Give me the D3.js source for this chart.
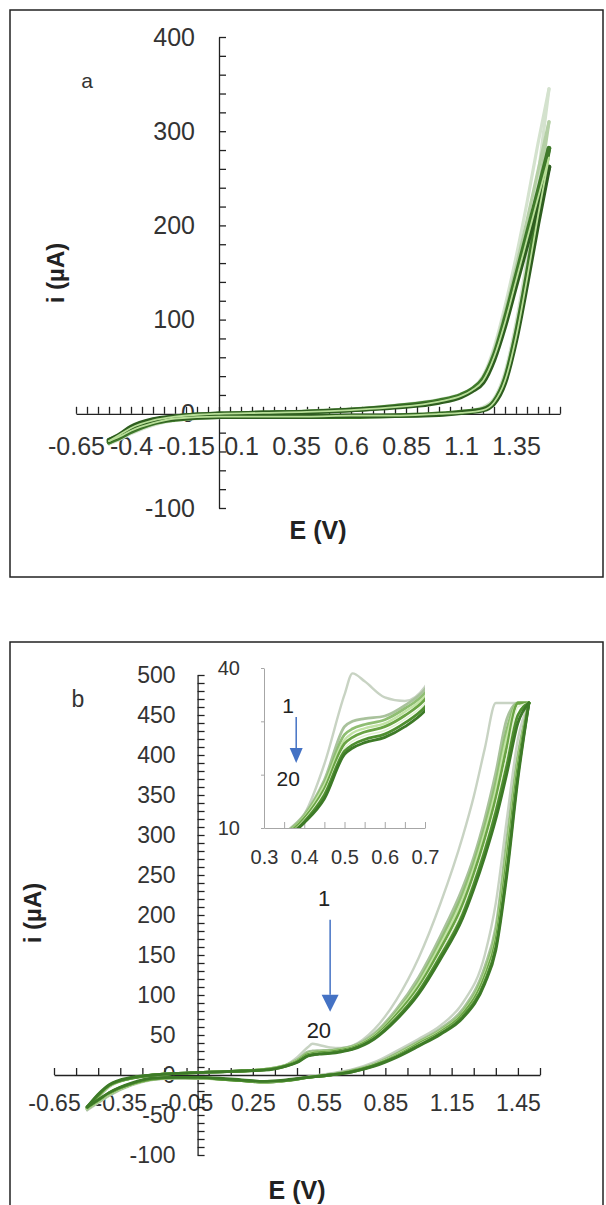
<!DOCTYPE html>
<html>
<head>
<meta charset="utf-8">
<script src="https://cdnjs.cloudflare.com/ajax/libs/d3/7.8.5/d3.min.js"></script>
<style>
  body { margin: 0; background: #fff; }
  svg { display: block; font-family: "Liberation Sans", Arial, sans-serif; }
</style>
</head>
<body>
<svg id="chart" width="606" height="1205"></svg>
<script>
// ---- panel a : potential grids (V) and currents (µA) per cycle ----
const eFwdA = [-0.5, -0.45, -0.4, -0.3, -0.2, -0.1, 0, 0.2, 0.4, 0.6, 0.8, 1.0, 1.1, 1.15, 1.2, 1.25, 1.3, 1.35, 1.4, 1.45, 1.5];
const eRevA = [-0.5, -0.45, -0.4, -0.3, -0.2, 0, 0.2, 0.4, 0.6, 0.8, 1.0, 1.1, 1.2, 1.25, 1.3, 1.35, 1.4, 1.45, 1.5];

const a1Fwd = [-32, -24, -16, -7, -3, -1, 0, 1, 3, 5, 9, 15, 21, 27, 40, 70, 114, 166, 224, 287, 345];
const a1Rev = [-32, -27, -21, -12, -7, -4, -3, -3, -3, -2, 0, 2, 7, 16, 44, 96, 165, 252, 345];
const a2Fwd = [-31, -24, -16, -7, -3, -1, 0, 1, 3, 5, 8, 14, 20, 26, 38, 66, 107, 155, 205, 258, 310];
const a2Rev = [-31, -26, -20, -11, -6, -3, -3, -3, -2, -2, 0, 2, 6, 14, 40, 89, 154, 232, 310];
const a3Fwd = [-30, -23, -15, -7, -3, -1, 0, 1, 2, 4, 8, 14, 20, 26, 37, 62, 101, 146, 191, 236, 282];
const a3Rev = [-30, -25, -19, -10, -6, -3, -3, -3, -3, -2, 0, 2, 5, 13, 37, 85, 148, 217, 282];
const a4Fwd = [-29, -22, -15, -7, -3, -1, 0, 1, 2, 4, 7, 13, 19, 25, 35, 60, 97, 141, 185, 229, 272];
const a4Rev = [-29, -24, -18, -10, -5, -3, -3, -3, -2, -2, 0, 1, 4, 12, 35, 81, 143, 210, 272];
const a5Fwd = [-28, -22, -14, -6, -3, -1, 0, 1, 2, 4, 7, 12, 18, 24, 33, 57, 93, 136, 179, 221, 262];
const a5Rev = [-28, -23, -17, -9, -5, -3, -3, -3, -2, -2, -1, 1, 4, 11, 33, 78, 138, 202, 262];

const xLabelsA = [-0.65, -0.4, -0.15, 0.1, 0.35, 0.6, 0.85, 1.1, 1.35];
const yLabelsA = [-100, 0, 100, 200, 300, 400];

// ---- panel b : 20 cycles, the distinguishable ones ----
const eFwdB = [-0.5, -0.45, -0.4, -0.3, -0.2, -0.1, 0, 0.1, 0.2, 0.3, 0.35, 0.4, 0.45, 0.5, 0.52, 0.55, 0.6, 0.65, 0.7, 0.8, 0.9, 1.0, 1.1, 1.2, 1.25, 1.3, 1.35, 1.4, 1.45, 1.5];
const eRevB = [-0.5, -0.45, -0.4, -0.3, -0.2, -0.1, 0, 0.1, 0.2, 0.3, 0.4, 0.5, 0.6, 0.7, 0.8, 0.9, 1.0, 1.1, 1.2, 1.3, 1.35, 1.4, 1.45, 1.5];

const b1Fwd = [-44, -28, -15, -4, 0, 2, 3, 4, 5, 7, 9, 12.5, 22, 35, 39, 37.5, 34.5, 33.8, 36.5, 57, 94, 146, 215, 298, 348, 408, 465, 465, 465, 465];
const b2Fwd = [-43, -27, -14, -4, 0, 2, 3, 4, 5, 7, 9, 12.5, 19, 29, 30, 30.5, 31, 33, 36, 52, 82, 122, 174, 234, 272, 320, 378, 445, 465, 465];
const b3Fwd = [-42, -27, -14, -4, 0, 2, 3, 4, 5, 7, 8.8, 12.2, 18.5, 27.5, 28.6, 29.4, 30.3, 32.4, 35.3, 50, 79, 117, 168, 227, 265, 311, 366, 432, 465, 465];
const b4Fwd = [-42, -26, -14, -4, 0, 2, 3, 4, 5, 7, 8.6, 12, 18, 26.5, 27.8, 28.7, 29.6, 31.8, 34.7, 49, 77, 114, 163, 220, 258, 303, 356, 422, 465, 465];
const b5Fwd = [-41, -26, -13, -4, 0, 2, 3, 4, 5, 6.5, 8.4, 11.8, 17.3, 25.8, 27, 28, 29, 31.1, 34.1, 48, 75, 110, 158, 213, 251, 295, 346, 410, 465, 465];
const b6Fwd = [-41, -25, -13, -4, 0, 2, 3, 4, 5, 6.5, 8.2, 11.5, 16.8, 25, 26.3, 27.3, 28.3, 30.4, 33.4, 47, 73, 107, 153, 207, 244, 287, 337, 398, 460, 465];
const b7Fwd = [-40, -25, -13, -4, 0, 2, 3, 4, 5, 6.5, 8, 11.2, 16.2, 24.4, 25.6, 26.6, 27.6, 29.7, 32.7, 46, 71, 104, 149, 201, 238, 280, 329, 387, 450, 465];
const b8Fwd = [-40, -24, -12, -3, 0, 2, 3, 4, 5, 6, 7.8, 11, 15.5, 23.8, 25, 26, 27, 29, 32, 45, 69, 101, 145, 196, 232, 273, 320, 377, 440, 465];

const b1Rev = [-44, -35, -26, -13, -6, -4, -4, -5, -7, -9, -7, -2, 2, 7, 16, 30, 45, 62, 90, 150, 215, 320, 420, 465];
const b2Rev = [-43, -34, -25, -12, -5, -4, -4, -5, -7, -9, -7, -3, 1, 6, 14, 27, 42, 58, 82, 135, 185, 295, 400, 465];
const b3Rev = [-42, -33, -24, -12, -5, -4, -4, -5, -7, -9, -7, -3, 0, 5, 13, 26, 41, 56, 79, 130, 178, 285, 395, 465];
const b4Rev = [-42, -33, -24, -12, -5, -3, -4, -5, -7, -9, -7, -3, 0, 5, 13, 25, 40, 55, 77, 126, 172, 277, 390, 465];
const b5Rev = [-41, -32, -23, -11, -5, -3, -4, -5, -7, -9, -7, -3, 0, 5, 12, 24, 39, 54, 76, 123, 168, 270, 385, 465];
const b6Rev = [-41, -32, -23, -11, -4, -3, -4, -5, -7, -9, -7, -3, 0, 4, 12, 24, 38, 53, 74, 120, 164, 263, 380, 465];
const b7Rev = [-40, -31, -22, -11, -4, -3, -3, -5, -7, -8, -7, -3, 0, 4, 12, 23, 37, 52, 73, 117, 160, 256, 375, 465];
const b8Rev = [-40, -31, -22, -10, -4, -3, -3, -4, -6, -8, -6, -3, 0, 4, 11, 22, 36, 51, 71, 114, 156, 250, 370, 465];

const xLabelsB = [-0.65, -0.35, -0.05, 0.25, 0.55, 0.85, 1.15, 1.45];
const yLabelsB = [-100, -50, 0, 50, 100, 150, 200, 250, 300, 350, 400, 450, 500];
const xLabelsInset = [0.3, 0.4, 0.5, 0.6, 0.7];
const yLabelsInset = [10, 40];

const cyclesA = [
  { fwd: a1Fwd, rev: a1Rev, color: "#d4e2ce", w: 3.2 },
  { fwd: a2Fwd, rev: a2Rev, color: "#b4cfa5", w: 3.2 },
  { fwd: a3Fwd, rev: a3Rev, color: "#3f7a2a", w: 4.5 },
  { fwd: a5Fwd, rev: a5Rev, color: "#2e5e1f", w: 4.5 },
  { fwd: a4Fwd, rev: a4Rev, color: "#b8df98", w: 1.8 }
];
const cyclesB = [
  { fwd: b1Fwd, rev: b1Rev, color: "#c8d3c3", w: 2.4 },
  { fwd: b2Fwd, rev: b2Rev, color: "#a9c29c", w: 2.8 },
  { fwd: b3Fwd, rev: b3Rev, color: "#8fbe72", w: 2.8 },
  { fwd: b4Fwd, rev: b4Rev, color: "#c3e4a6", w: 2.4 },
  { fwd: b5Fwd, rev: b5Rev, color: "#6aa444", w: 2.8 },
  { fwd: b6Fwd, rev: b6Rev, color: "#e2f2d2", w: 1.6 },
  { fwd: b7Fwd, rev: b7Rev, color: "#4f8f30", w: 2.8 },
  { fwd: b8Fwd, rev: b8Rev, color: "#3d7a27", w: 2.8 }
];

const svg = d3.select("#chart");
const fmt = v => String(+v.toFixed(2));
const key = v => Math.round(v * 1000);

function styleAxis(g, color, width, fontSize) {
  g.attr("font-family", null).attr("font-size", null);
  g.select(".domain").attr("stroke", color).attr("stroke-width", width);
  g.selectAll(".tick line").attr("stroke", color).attr("stroke-width", width);
  g.selectAll(".tick text").attr("fill", "#333").style("font-size", fontSize + "px");
}

function drawCycles(g, cycles, x, y, eFwd, eRev) {
  const line = d3.line().x(d => x(d[0])).y(d => y(d[1])).curve(d3.curveMonotoneX);
  cycles.forEach(c => {
    [d3.zip(eFwd, c.fwd), d3.zip(eRev, c.rev)].forEach(pts => {
      g.append("path")
        .attr("d", line(pts))
        .attr("fill", "none")
        .attr("stroke", c.color)
        .attr("stroke-width", c.w)
        .attr("stroke-linejoin", "round")
        .attr("stroke-linecap", "round");
    });
  });
}

function drawCrossAxes(g, x, y, o) {
  const xSet = new Set(o.xLabels.map(key));
  const ySet = new Set(o.yLabels.map(key));
  const gx = g.append("g")
    .attr("transform", `translate(0,${y(0)})`)
    .call(d3.axisBottom(x).tickValues(o.xMinor).tickSizeInner(-7).tickSizeOuter(0)
      .tickPadding(o.xPad).tickFormat(d => xSet.has(key(d)) ? fmt(d) : ""));
  styleAxis(gx, "#222", 1.3, o.font);
  const gy = g.append("g")
    .attr("transform", `translate(${x(0)},0)`)
    .call(d3.axisLeft(y).tickValues(o.yMinor).tickSizeInner(-7).tickSizeOuter(0)
      .tickPadding(o.yPad).tickFormat(d => ySet.has(key(d)) ? fmt(d) : ""));
  styleAxis(gy, "#222", 1.3, o.font);
}

function arrow(g, x0, y0, y1, head, half) {
  g.append("line").attr("x1", x0).attr("x2", x0).attr("y1", y0).attr("y2", y1 - head)
    .attr("stroke", "#4472c4").attr("stroke-width", 1.5);
  g.append("path")
    .attr("d", `M${x0 - half},${y1 - head}L${x0 + half},${y1 - head}L${x0},${y1}Z`)
    .attr("fill", "#4472c4");
}

// ================= panel a =================
const pa = svg.append("g");
pa.append("rect").attr("x", 10).attr("y", 10).attr("width", 593).attr("height", 567)
  .attr("fill", "#fff").attr("stroke", "#222").attr("stroke-width", 1.5);

const xA = d3.scaleLinear().domain([-0.65, 1.55]).range([76, 560]);
const yA = d3.scaleLinear().domain([-100, 400]).range([508, 37]);

drawCrossAxes(pa, xA, yA, {
  xLabels: xLabelsA, yLabels: yLabelsA,
  xMinor: d3.range(45).map(i => -0.65 + i * 0.05),
  yMinor: d3.range(-100, 401, 20),
  xPad: 23, yPad: 24, font: 25
});
drawCycles(pa, cyclesA, xA, yA, eFwdA, eRevA);

pa.append("text").attr("x", 87).attr("y", 88).attr("text-anchor", "middle")
  .style("font-size", "21px").attr("fill", "#333").text("a");
pa.append("text").attr("transform", "translate(64,273) rotate(-90)").attr("text-anchor", "middle")
  .style("font-size", "24px").style("font-weight", "bold").attr("fill", "#222").text("i (µA)");
pa.append("text").attr("x", 318).attr("y", 539).attr("text-anchor", "middle")
  .style("font-size", "25px").style("font-weight", "bold").attr("fill", "#222").text("E (V)");

// ================= panel b =================
const pb = svg.append("g");
pb.append("rect").attr("x", 10).attr("y", 642).attr("width", 593).attr("height", 600)
  .attr("fill", "#fff").attr("stroke", "#222").attr("stroke-width", 1.5);

const xB = d3.scaleLinear().domain([-0.65, 1.55]).range([54, 540]);
const yB = d3.scaleLinear().domain([-100, 500]).range([1155, 675]);

drawCrossAxes(pb, xB, yB, {
  xLabels: xLabelsB, yLabels: yLabelsB,
  xMinor: d3.range(23).map(i => -0.65 + i * 0.1),
  yMinor: d3.range(-100, 501, 10),
  xPad: 20, yPad: 22, font: 23
});
drawCycles(pb, cyclesB, xB, yB, eFwdB, eRevB);

pb.append("text").attr("x", 78).attr("y", 707).attr("text-anchor", "middle")
  .style("font-size", "23px").attr("fill", "#333").text("b");
pb.append("text").attr("transform", "translate(41,913) rotate(-90)").attr("text-anchor", "middle")
  .style("font-size", "24px").style("font-weight", "bold").attr("fill", "#222").text("i (µA)");
pb.append("text").attr("x", 297).attr("y", 1199).attr("text-anchor", "middle")
  .style("font-size", "25px").style("font-weight", "bold").attr("fill", "#222").text("E (V)");

// cycle annotation on main plot
pb.append("text").attr("x", xB(0.573)).attr("y", yB(221) + 8).attr("text-anchor", "middle")
  .style("font-size", "22px").attr("fill", "#222").text("1");
arrow(pb, xB(0.6), yB(194), yB(79), 17, 8.5);
pb.append("text").attr("x", xB(0.549)).attr("y", yB(56) + 8).attr("text-anchor", "middle")
  .style("font-size", "22px").attr("fill", "#222").text("20");

// ---- inset ----
const xI = d3.scaleLinear().domain([0.3, 0.7]).range([264, 425]);
const yI = d3.scaleLinear().domain([10, 40]).range([828, 668]);
const inset = pb.append("g");
svg.append("defs").append("clipPath").attr("id", "insetClip")
  .append("rect").attr("x", 264).attr("y", 668).attr("width", 161).attr("height", 160);

const ixSet = new Set(xLabelsInset.map(key));
const iySet = new Set(yLabelsInset.map(key));
const gix = inset.append("g").attr("transform", `translate(0,${yI(10)})`)
  .call(d3.axisBottom(xI).tickValues(d3.range(9).map(i => 0.3 + i * 0.05))
    .tickSizeInner(-6).tickSizeOuter(0).tickPadding(22)
    .tickFormat(d => ixSet.has(key(d)) ? fmt(d) : ""));
styleAxis(gix, "#a6a6a6", 1, 20);
const giy = inset.append("g").attr("transform", `translate(${xI(0.3)},0)`)
  .call(d3.axisLeft(yI).tickValues([10, 20, 30, 40]).tickSizeInner(3).tickSizeOuter(0)
    .tickPadding(21).tickFormat(d => iySet.has(key(d)) ? fmt(d) : ""));
styleAxis(giy, "#a6a6a6", 1, 20);

const insetLines = inset.append("g").attr("clip-path", "url(#insetClip)");
drawCycles(insetLines, cyclesB, xI, yI, eFwdB, eRevB);

inset.append("text").attr("x", xI(0.36)).attr("y", yI(33) + 8).attr("text-anchor", "middle")
  .style("font-size", "21px").attr("fill", "#222").text("1");
arrow(inset, xI(0.38), yI(30.8), yI(22.2), 15, 6.5);
inset.append("text").attr("x", xI(0.36)).attr("y", yI(19.4) + 8).attr("text-anchor", "middle")
  .style("font-size", "21px").attr("fill", "#222").text("20");
</script>
</body>
</html>
